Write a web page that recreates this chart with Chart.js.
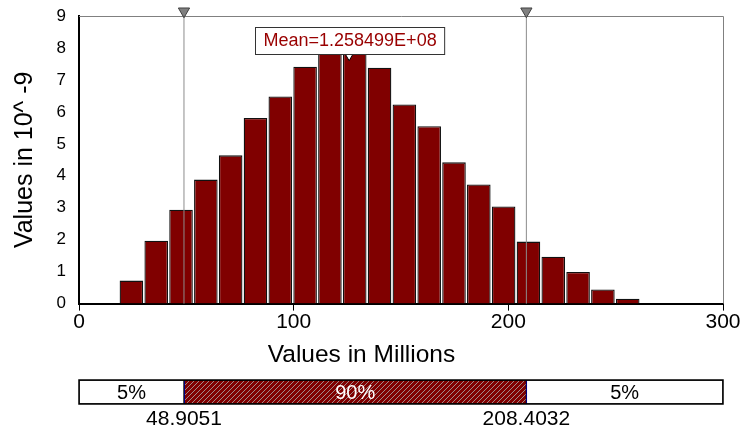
<!DOCTYPE html>
<html>
<head>
<meta charset="utf-8">
<script src="https://cdn.jsdelivr.net/npm/chart.js@4.4.1/dist/chart.umd.min.js"></script>
<style>
  html, body { margin: 0; padding: 0; background: #fff; }
  #wrap { position: relative; width: 744px; height: 432px; overflow: hidden; }
  #histo { position: absolute; left: 0; top: 0; }
  #strip { position: absolute; left: 0; top: 370px; }
</style>
</head>
<body>
<div id="wrap">
  <canvas id="histo" width="744" height="370"></canvas>
  <canvas id="strip" width="744" height="62"></canvas>
</div>
<script>
// ==========================================
// histogram data (values in millions, density in 10^-9)
// ==========================================
const binCenters = [24.41, 35.97, 47.53, 59.09, 70.65, 82.21, 93.77, 105.33, 116.89, 128.45, 140.01,
                    151.57, 163.13, 174.69, 186.25, 197.81, 209.37, 220.93, 232.49, 244.05, 255.61];
const density = [0.72, 1.97, 2.94, 3.88, 4.64, 5.81, 6.48, 7.41, 7.86, 7.88, 7.38,
                 6.23, 5.55, 4.42, 3.73, 3.04, 1.94, 1.47, 0.99, 0.44, 0.15];
const xTicks = [0, 100, 200, 300];
const yTicks = [0, 1, 2, 3, 4, 5, 6, 7, 8, 9];

const meanValue = 125.8499;
const meanLabel = "Mean=1.258499E+08";
const pctLow = 48.9051;
const pctHigh = 208.4032;
const pctLabels = ["5%", "90%", "5%"];

const FONT = "'Liberation Sans', Arial, sans-serif";
const DARK_RED = "#800000";

// gray frame on top/right + mean label box
const frameAndMean = {
  id: "frameAndMean",
  beforeDatasetsDraw(chart) {
    const { ctx, chartArea: a } = chart;
    ctx.save();
    ctx.strokeStyle = "#808080";
    ctx.lineWidth = 1;
    ctx.beginPath();
    ctx.moveTo(a.left, a.top + 0.5);
    ctx.lineTo(a.right + 0.5, a.top + 0.5);
    ctx.lineTo(a.right + 0.5, a.bottom);
    ctx.stroke();
    ctx.restore();
  },
  afterDatasetsDraw(chart) {
    const { ctx, scales } = chart;
    const cx = scales.x.getPixelForValue(meanValue);
    const bottom = Math.round(scales.y.getPixelForValue(7.82));
    ctx.save();
    ctx.font = "18px " + FONT;
    const w = ctx.measureText(meanLabel).width + 16;
    const h = 27;
    const left = Math.round(cx - w / 2) + 0.5;
    ctx.fillStyle = "#fff";
    ctx.fillRect(left, bottom - h, w, h);
    ctx.strokeStyle = "#333";
    ctx.lineWidth = 1;
    ctx.strokeRect(left, bottom - h + 0.5, w, h);
    ctx.fillStyle = "#990000";
    ctx.textAlign = "center";
    ctx.textBaseline = "middle";
    ctx.fillText(meanLabel, left + w / 2, bottom - h / 2 + 1);
    ctx.restore();
  }
};

function markerLine(xv) {
  return {
    type: "line",
    data: [{ x: xv, y: 0 }, { x: xv, y: 9.149 }],
    borderColor: "#8c8c8c",
    borderWidth: 1,
    pointRadius: [0, 6.5],
    pointStyle: "triangle",
    rotation: 180,
    pointBackgroundColor: "#808080",
    pointBorderColor: "#404040",
    pointBorderWidth: 1,
    clip: false,
    order: 0
  };
}

new Chart(document.getElementById("histo"), {
  type: "bar",
  data: {
    datasets: [
      markerLine(pctLow),
      markerLine(pctHigh),
      {
        type: "scatter",
        data: [{ x: meanValue, y: 7.74 }],
        pointStyle: "triangle",
        rotation: 180,
        pointRadius: 4.5,
        pointBackgroundColor: "#fff",
        pointBorderColor: "#000",
        pointBorderWidth: 1,
        clip: false,
        order: 0
      },
      {
        data: binCenters.map((x, i) => ({ x: x, y: density[i] })),
        backgroundColor: DARK_RED,
        borderColor: "#111",
        borderWidth: 1.3,
        barPercentage: 0.95,
        categoryPercentage: 1,
        order: 1
      }
    ]
  },
  options: {
    responsive: false,
    animation: false,
    layout: { padding: { top: 16, right: 21, left: 0, bottom: 0 } },
    plugins: {
      legend: { display: false },
      tooltip: { enabled: false },
      title: {
        display: true,
        position: "bottom",
        text: "Values in Millions",
        color: "#000",
        font: { family: FONT, size: 24.5, weight: "normal", lineHeight: 1.2 },
        padding: 0
      }
    },
    scales: {
      x: {
        type: "linear",
        min: 0,
        max: 300,
        offset: false,
        afterBuildTicks: s => { s.ticks = xTicks.map(v => ({ value: v })); },
        afterFit: s => { s.height = 37; },
        ticks: { color: "#000", padding: 0, font: { family: FONT, size: 21, lineHeight: 1.1 } },
        grid: { offset: false, drawOnChartArea: false, drawTicks: true, tickLength: 7, color: "#000" },
        border: { color: "#000", width: 2 }
      },
      y: {
        min: 0,
        max: 9,
        afterBuildTicks: s => { s.ticks = yTicks.map(v => ({ value: v })); },
        afterFit: s => { s.width = 79; },
        ticks: { color: "#000", padding: 5, font: { family: FONT, size: 17 } },
        grid: { display: false },
        border: { color: "#000", width: 2 },
        title: {
          display: true,
          text: "Values in 10^ -9",
          color: "#000",
          font: { family: FONT, size: 25, lineHeight: 1 },
          padding: { top: 13, bottom: 0 }
        }
      }
    }
  },
  plugins: [frameAndMean]
});

// ==========================================
// percentile strip under the histogram
// ==========================================
function hatchPattern(ctx) {
  const c = document.createElement("canvas");
  c.width = 5; c.height = 5;
  const g = c.getContext("2d");
  g.fillStyle = DARK_RED;
  g.fillRect(0, 0, 5, 5);
  g.strokeStyle = "#a08a8a";
  g.lineWidth = 1;
  g.beginPath();
  g.moveTo(0, 5); g.lineTo(5, 0);
  g.moveTo(-1, 1); g.lineTo(1, -1);
  g.moveTo(4, 6); g.lineTo(6, 4);
  g.stroke();
  return ctx.createPattern(c, "repeat");
}

const stripLabels = {
  id: "stripLabels",
  afterDatasetsDraw(chart) {
    const { ctx, scales, chartArea: a } = chart;
    const x0 = scales.x.getPixelForValue(0);
    const x1 = scales.x.getPixelForValue(pctLow);
    const x2 = scales.x.getPixelForValue(pctHigh);
    const x3 = scales.x.getPixelForValue(300);
    const midY = (a.top + a.bottom) / 2;
    ctx.save();
    ctx.strokeStyle = "#000";
    ctx.lineWidth = 1.5;
    ctx.strokeRect(x0, a.top, x3 - x0, a.bottom - a.top);
    ctx.strokeStyle = "#000080";
    ctx.lineWidth = 1;
    [x1, x2].forEach(x => {
      ctx.beginPath();
      ctx.moveTo(Math.round(x) + 0.5, a.top + 1);
      ctx.lineTo(Math.round(x) + 0.5, a.bottom - 1);
      ctx.stroke();
    });
    ctx.textAlign = "center";
    ctx.textBaseline = "middle";
    ctx.font = "20px " + FONT;
    ctx.fillStyle = "#000";
    ctx.fillText(pctLabels[0], (x0 + x1) / 2, midY + 1);
    ctx.fillText(pctLabels[2], (x2 + x3) / 2, midY + 1);
    ctx.fillStyle = "#fff";
    ctx.fillText(pctLabels[1], (x1 + x2) / 2, midY + 1);
    ctx.font = "21px " + FONT;
    ctx.fillStyle = "#000";
    ctx.fillText(pctLow.toFixed(4), x1, a.bottom + 15);
    ctx.fillText(pctHigh.toFixed(4), x2, a.bottom + 15);
    ctx.restore();
  }
};

const stripCanvas = document.getElementById("strip");
const segStyle = { borderColor: "#000", borderWidth: 1, borderSkipped: false, barPercentage: 1, categoryPercentage: 1 };

new Chart(stripCanvas, {
  type: "bar",
  data: {
    labels: [""],
    datasets: [
      Object.assign({ data: [[0, pctLow]], backgroundColor: "#fff" }, segStyle),
      Object.assign({ data: [[pctLow, pctHigh]], backgroundColor: hatchPattern(stripCanvas.getContext("2d")) }, segStyle),
      Object.assign({ data: [[pctHigh, 300]], backgroundColor: "#fff" }, segStyle)
    ]
  },
  options: {
    indexAxis: "y",
    responsive: false,
    animation: false,
    layout: { padding: { left: 79, right: 21, top: 10, bottom: 28 } },
    plugins: { legend: { display: false }, tooltip: { enabled: false } },
    scales: {
      x: { type: "linear", min: 0, max: 300, display: false },
      y: { display: false, stacked: true }
    }
  },
  plugins: [stripLabels]
});
</script>
</body>
</html>
